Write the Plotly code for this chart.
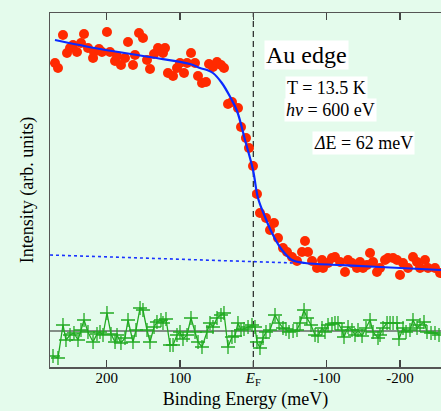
import plotly.graph_objects as go

# Red data points (binding energy meV, intensity arb. units)
data_E = [270.5, 266.4, 259.6, 254.1, 250.0, 245.9, 240.5, 235.0, 230.9, 225.5,
          218.6, 217.3, 210.5, 206.4, 199.6, 195.5, 188.6, 185.9, 180.5, 175.0,
          170.9, 164.1, 161.4, 155.9, 150.5, 145.0, 140.9, 135.4, 130.0, 123.2,
          120.4, 116.4, 109.5, 104.1, 100.0, 94.5, 90.4, 85.0, 79.5, 75.4,
          70.0, 64.5, 60.4, 55.0, 49.5, 44.1, 40.0, 34.5, 29.1, 20.9,
          16.8, 10.0, 5.9, 0.4, -5.0, -9.1, -17.3, -22.8, -28.2, -33.7,
          -40.5, -46.0, -52.8, -59.6, -66.4, -70.5, -74.6, -80.1, -86.9, -93.7,
          -95.1, -101.9, -107.3, -111.4, -118.3, -125.1, -129.2, -134.6, -141.4, -145.5,
          -149.6, -155.1, -159.2, -163.3, -168.7, -172.8, -179.6, -183.7, -190.6, -196.0,
          -200.1, -204.2, -211.0, -217.8, -223.3, -227.4, -234.2, -238.3, -247.8, -254.7]
data_I = [268, 263, 296, 278, 283, 286, 279, 288, 297, 283,
          273, 279, 282, 279, 299, 279, 270, 275, 266, 273,
          289, 266, 276, 298, 293, 271, 262, 277, 283, 278,
          283, 258, 255, 263, 268, 258, 268, 278, 268, 255,
          248, 249, 267, 264, 269, 266, 263, 227, 229, 223,
          204, 193, 183, 165, 137, 118, 113, 101, 108, 93,
          83, 79, 74, 70, 79, 90, 79, 70, 63, 71,
          63, 68, 73, 74, 69, 59, 71, 68, 63, 69,
          63, 66, 78, 69, 59, 63, 71, 73, 73, 71,
          56, 68, 63, 74, 69, 63, 71, 63, 63, 58]

# Fit curve
fit_E = [270.5, 209.1, 140.9, 86.3, 72.7, 63.2, 55.0, 42.9, 31.5, 22.2,
         11.3, 0.4, -6.4, -16.0, -25.5, -39.1, -52.8, -70.5, -118.3, -172.8, -256.0]
fit_I = [291, 282, 274, 267, 263, 261, 258, 248, 234, 220,
         191, 161, 133, 114, 98, 81, 71, 68, 66, 64, 61]

# Linear background (dotted)
bg_E = [277.3, -56.9]
bg_I = [76, 68]

# Residual (green)
res_E = [273.2, 266.4, 259.6, 255.5, 250.0, 244.6, 239.1, 235.0, 230.9, 225.5,
         218.6, 213.2, 209.1, 205.0, 199.6, 194.1, 188.6, 185.9, 180.5, 175.0,
         170.9, 164.1, 160.0, 154.5, 150.5, 145.0, 140.9, 135.4, 131.4, 125.9,
         123.2, 119.1, 113.6, 109.5, 104.1, 100.0, 95.9, 90.4, 85.0, 79.5,
         75.4, 70.0, 63.2, 59.1, 55.0, 49.5, 44.1, 40.0, 34.5, 29.1,
         25.0, 20.9, 16.8, 12.7, 7.2, 1.8, -2.3, -5.0, -9.1, -13.2,
         -17.3, -22.8, -29.6, -35.1, -40.5, -44.6, -48.7, -54.2, -59.6, -63.7,
         -69.2, -73.2, -78.7, -84.2, -88.3, -93.7, -97.8, -101.9, -107.3, -111.4,
         -115.5, -121.0, -123.7, -129.2, -134.6, -138.7, -142.8, -148.3, -153.7, -159.2,
         -163.3, -170.1, -172.8, -176.9, -182.4, -186.5, -190.6, -196.0, -198.7, -204.2,
         -208.3, -213.7, -217.8, -223.3, -227.4, -232.8, -236.9, -242.4, -247.8, -253.3]
res_I = [-25, -27, 6, -9, -4, -2, -9, 1, 11, -1,
         -11, -3, -1, -4, 18, -3, -11, -4, -12, -7,
         11, -11, 1, 23, 21, 1, -11, 4, 9, 11,
         8, 12, -14, -14, -4, -1, -8, -4, 13, -1,
         -11, -16, -1, 8, 4, 13, 16, 18, -16, -6,
         -5, 8, 1, 2, 4, 6, 4, -11, -17, -7,
         -1, 1, 16, 8, 3, 2, -1, 0, 1, 8,
         21, 13, 6, -4, -5, 3, -1, 6, 7, 8,
         8, 1, -6, 4, 1, -4, 1, -5, 3, 11,
         -1, -7, -4, 3, 8, 8, 8, 8, -8, 3,
         -1, 1, 11, 3, 6, 9, -1, -2, -2, -4]

tick_vals = [200, 100, 0, -100, -200]
tick_text = ["200", "100", "<i>E</i><sub>F</sub>", "-100", "-200"]

x_range = [277.3, -256.0]
y_range = [-36, 318]

BG = "#e4fbec"
FONT = "Liberation Serif"

fig = go.Figure()

# zero line
fig.add_trace(go.Scatter(x=x_range, y=[0, 0], mode="lines",
                         line=dict(color="#222222", width=1.2), hoverinfo="skip"))
# E_F dashed line
fig.add_trace(go.Scatter(x=[0, 0], y=y_range, mode="lines",
                         line=dict(color="#222222", width=1.2, dash="6px,4px"), hoverinfo="skip"))

fig.add_trace(go.Scatter(x=res_E, y=res_I, mode="lines+markers",
                         line=dict(color="#22aa22", width=1.3),
                         marker=dict(symbol="cross-thin", size=10, color="#22aa22",
                                     line=dict(color="#22aa22", width=1.3))))

fig.add_trace(go.Scatter(x=data_E, y=data_I, mode="markers",
                         marker=dict(color="#ff2a00", size=10)))

fig.add_trace(go.Scatter(x=bg_E, y=bg_I, mode="lines",
                         line=dict(color="#1a33ff", width=1.6, dash="3px,3px")))

fig.add_trace(go.Scatter(x=fit_E, y=fit_I, mode="lines", line_shape="spline",
                         line=dict(color="#0a2aff", width=2.2)))

def label(text, x, y, size):
    fig.add_annotation(x=x, y=y, xref="x", yref="y", text=text, showarrow=False,
                       xanchor="left", yanchor="middle",
                       font=dict(family=FONT, size=size, color="black"),
                       bgcolor="white", borderpad=1)

label("Au edge", -14.6, 276, 24)
label("T = 13.5 K", -43.2, 243, 18)
label("<i>h</i><i>ν</i> = 600 eV", -41.9, 221, 18)
label("<i>Δ</i>E = 62 meV", -80.1, 188, 18)

fig.update_layout(
    width=441, height=411,
    margin=dict(l=50, r=0, t=13, b=44, autoexpand=False),
    paper_bgcolor=BG, plot_bgcolor=BG,
    showlegend=False,
    font=dict(family=FONT, color="black"),
    xaxis=dict(range=x_range, tickvals=tick_vals, ticktext=tick_text,
               ticks="inside", ticklen=7, tickwidth=1.5, tickcolor="#444",
               showline=True, linecolor="#555", linewidth=1.5, mirror="ticks",
               showgrid=False, zeroline=False, automargin=False,
               tickfont=dict(family=FONT, size=15), ticklabelstandoff=-4,
               title=dict(text="Binding Energy (meV)", font=dict(family=FONT, size=18),
                          standoff=5)),
    yaxis=dict(range=y_range, showticklabels=False, ticks="",
               showline=True, linecolor="#555", linewidth=1.5, mirror=False,
               showgrid=False, zeroline=False, automargin=False,
               title=dict(text="Intensity (arb. units)", font=dict(family=FONT, size=18),
                          standoff=10)),
)

fig.write_html("out.html", config={"displayModeBar": False, "staticPlot": True},
               post_script="document.body.style.margin='0';document.body.style.background='%s';" % BG)
